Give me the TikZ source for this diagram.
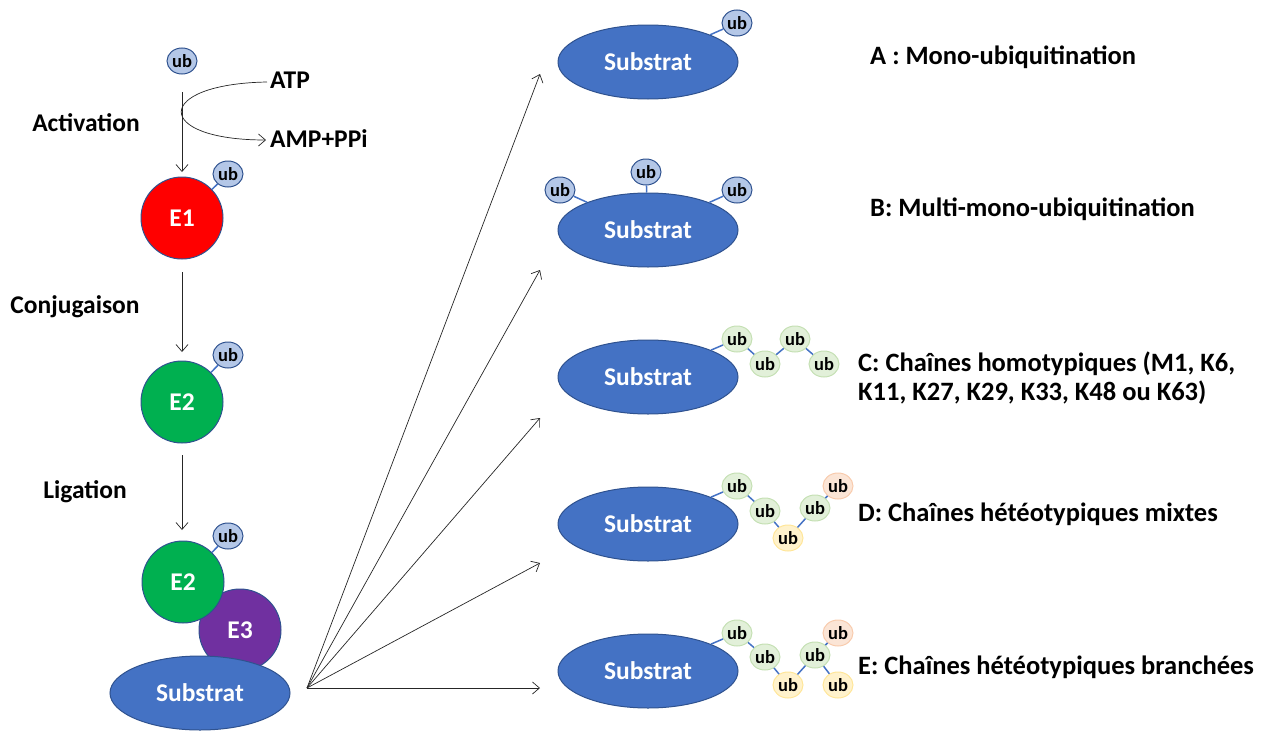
\documentclass[tikz,border=0pt]{standalone}
\usepackage{fontspec}
\setmainfont{Carlito}
\usetikzlibrary{arrows.meta,shapes.geometric}
\definecolor{subblue}{HTML}{4472C4}
\definecolor{edgeblue}{HTML}{2F528F}
\definecolor{ubblue}{HTML}{B4C7E7}
\definecolor{ubgreen}{HTML}{E2F0D9}
\definecolor{ubgreenb}{HTML}{C5E0B4}
\definecolor{ubyellow}{HTML}{FFF2CC}
\definecolor{ubyellowb}{HTML}{FFE699}
\definecolor{uborange}{HTML}{FBE5D6}
\definecolor{uborangeb}{HTML}{F8CBAD}
\definecolor{eone}{HTML}{FF0000}
\definecolor{etwo}{HTML}{00B050}
\definecolor{ethree}{HTML}{7030A0}
\definecolor{arrowgray}{HTML}{262626}
\tikzset{
  sub/.style={ellipse, draw=edgeblue, line width=1pt, fill=subblue, minimum width=180pt, minimum height=74pt, inner sep=0pt, text=white, font=\fontsize{25.5}{30}\selectfont\bfseries},
  enz/.style={circle, draw=edgeblue, line width=1pt, minimum size=82pt, inner sep=0pt, text=white, font=\fontsize{25.5}{30}\selectfont\bfseries},
  ubb/.style={ellipse, draw=edgeblue, line width=1pt, fill=ubblue, minimum width=30pt, minimum height=26pt, inner sep=0pt, font=\fontsize{18.5}{20}\selectfont\bfseries},
  ubg/.style={ubb, draw=ubgreenb, fill=ubgreen},
  uby/.style={ubb, draw=ubyellowb, fill=ubyellow},
  ubo/.style={ubb, draw=uborangeb, fill=uborange},
  lnk/.style={draw=subblue, line width=1.5pt},
  flow/.style={draw=arrowgray, line width=0.7pt, -{Straight Barb[length=7pt,width=12pt]}},
  lab/.style={font=\fontsize{26.5}{29}\selectfont\bfseries, inner sep=0pt, align=left},
  llab/.style={font=\fontsize{25.5}{29}\selectfont\bfseries, inner sep=0pt},
}
\begin{document}
\begin{tikzpicture}[x=1pt,y=-1pt]
\useasboundingbox (0,0) rectangle (1275,731);
% left column
\node[ubb] (ub0) at (182,61) {ub};
\node[llab, anchor=west] (atp) at (270,80) {ATP};
\node[llab, anchor=west] (amp) at (270,139) {AMP+PPi};
\node[llab] (lact) at (86,123) {Activation};
\node[llab] (lconj) at (75,307) {Conjugaison};
\node[llab] (llig) at (85,492) {Ligation};

\node[enz, fill=eone] (e1) at (182,218) {E1};
\node[ubb] (ub1) at (228,174) {ub};
\draw[lnk] (e1) -- (ub1);
\node[enz, fill=etwo] (e2a) at (182,402) {E2};
\node[ubb] (ub2) at (228,355) {ub};
\draw[lnk] (e2a) -- (ub2);

\node[enz, fill=ethree] (e3) at (240,630) {E3};
\node[enz, fill=etwo] (e2b) at (183,582) {E2};
\node[ubb] (ub3) at (228,536) {ub};
\draw[lnk] (e2b) -- (ub3);
\node[sub] (s0) at (200,693) {Substrat};

\coordinate (a1s) at (182,92);
\coordinate (a1e) at (182,172);
\coordinate (a2s) at (182,272);
\coordinate (a2e) at (182,352);
\coordinate (a3s) at (182,455);
\coordinate (a3e) at (182,530);
\draw[flow] (a1s) -- (a1e);
\draw[flow] (a2s) -- (a2e);
\draw[flow] (a3s) -- (a3e);
\coordinate (atpin) at (267,82);
\coordinate (ampin) at (266,140);
\draw[flow] (atpin) .. controls (153,84) and (153,140) .. (ampin);

% right column substrates
\node[sub] (sA) at (648,62) {Substrat};
\node[ubb] (uA) at (737,23) {ub};
\draw[lnk] (sA) -- (uA);

\node[sub] (sB) at (648,230) {Substrat};
\node[ubb] (uB1) at (560,190) {ub};
\node[ubb] (uB2) at (646,172) {ub};
\node[ubb] (uB3) at (737,190) {ub};
\draw[lnk] (sB) -- (uB1);
\draw[lnk] (sB) -- (uB2);
\draw[lnk] (sB) -- (uB3);

\node[sub] (sC) at (648,377) {Substrat};
\node[ubg] (uC1) at (737,339) {ub};
\node[ubg] (uC2) at (765,364) {ub};
\node[ubg] (uC3) at (795,339) {ub};
\node[ubg] (uC4) at (824,364) {ub};
\draw[lnk] (sC) -- (uC1);
\draw[lnk] (uC1) -- (uC2);
\draw[lnk] (uC2) -- (uC3);
\draw[lnk] (uC3) -- (uC4);

\node[sub] (sD) at (648,524) {Substrat};
\node[ubg] (uD1) at (737,486) {ub};
\node[ubg] (uD2) at (765,511) {ub};
\node[uby] (uD3) at (788,538) {ub};
\node[ubg] (uD4) at (815,508) {ub};
\node[ubo] (uD5) at (838,486) {ub};
\draw[lnk] (sD) -- (uD1);
\draw[lnk] (uD1) -- (uD2);
\draw[lnk] (uD2) -- (uD3);
\draw[lnk] (uD3) -- (uD4);
\draw[lnk] (uD4) -- (uD5);

\node[sub] (sE) at (648,671) {Substrat};
\node[ubg] (uE1) at (737,633) {ub};
\node[ubg] (uE2) at (765,657) {ub};
\node[uby] (uE3) at (788,685) {ub};
\node[ubg] (uE4) at (815,655) {ub};
\node[ubo] (uE5) at (838,633) {ub};
\node[uby] (uE6) at (838,685) {ub};
\draw[lnk] (sE) -- (uE1);
\draw[lnk] (uE1) -- (uE2);
\draw[lnk] (uE2) -- (uE3);
\draw[lnk] (uE3) -- (uE4);
\draw[lnk] (uE4) -- (uE5);
\draw[lnk] (uE4) -- (uE6);

% fan of arrows
\coordinate (src) at (307,688);
\coordinate (tA) at (540,74);
\coordinate (tB) at (540,270);
\coordinate (tC) at (540,418);
\coordinate (tD) at (540,563);
\coordinate (tE) at (540,688);
\foreach \t in {tA,tB,tC,tD,tE} \draw[flow] (src) -- (\t);

% labels
\node[lab, anchor=west] (lA) at (870,57) {A : Mono-ubiquitination};
\node[lab, anchor=west] (lB) at (870,209) {B: Multi-mono-ubiquitination};
\node[lab, anchor=west] (lC) at (858,378) {C: Chaînes homotypiques (M1, K6,\\K11, K27, K29, K33, K48 ou K63)};
\node[lab, anchor=west] (lD) at (858,514) {D: Chaînes hétéotypiques mixtes};
\node[lab, anchor=west] (lE) at (858,667) {E: Chaînes hétéotypiques branchées};
\end{tikzpicture}
\end{document}
